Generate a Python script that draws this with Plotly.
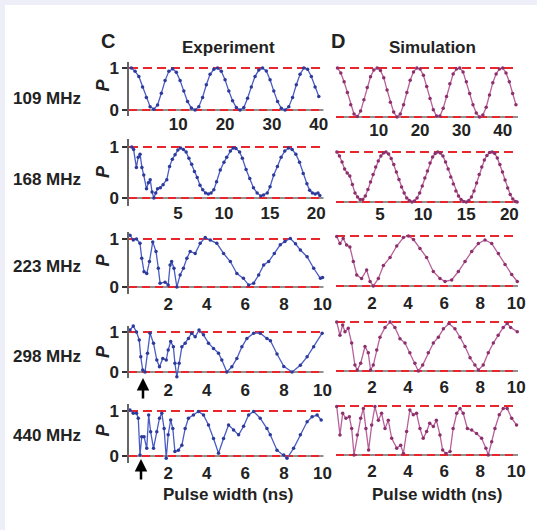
import plotly.graph_objects as go

W, H = 537, 530
FONT = "Liberation Sans, Arial, Helvetica, sans-serif"
TXT = "#222222"

# ---------------- data (P vs pulse width, ns) ----------------
# 109 MHz
exp109_y = [1.0,0.92,0.8,0.55,0.3,0.08,0.02,0.12,0.4,0.7,0.92,0.98,0.9,0.7,0.45,0.2,0.05,0.0,0.08,0.3,
            0.6,0.85,0.97,1.0,0.92,0.72,0.45,0.22,0.06,0.0,0.06,0.28,0.55,0.8,0.95,1.0,0.93,0.72,0.45,0.2,
            0.04,0.0,0.08,0.3,0.6,0.85,1.0,0.97,0.8,0.55,0.32]
exp109_x = [round(0.8 * i, 2) for i in range(len(exp109_y))]
sim109_y = [1.0,0.9,0.72,0.5,0.25,0.06,0.01,0.12,0.35,0.6,0.82,0.96,1.0,0.95,0.8,0.55,0.3,0.1,0.0,0.06,
            0.25,0.5,0.75,0.92,1.0,0.98,0.85,0.62,0.38,0.15,0.02,0.02,0.18,0.42,0.68,0.88,0.98,1.0,0.92,0.72,
            0.48,0.25,0.08,0.0,0.04,0.2,0.45,0.7,0.88,0.98,1.0,0.9,0.72,0.48,0.25]
sim109_x = [round(0.8 * i, 2) for i in range(len(sim109_y))]

# 168 MHz
exp168_x = [0,0.2,0.5,0.7,0.9,1.1,1.3,1.6,1.8,2.0,2.2,2.4,2.6,2.8,3.1,3.4,3.8,4.1,4.4,4.7,
            5.0,5.3,5.6,5.9,6.2,6.5,6.8,7.1,7.4,7.7,8.0,8.3,8.6,8.9,9.2,9.6,10.0,10.3,10.7,11.0,
            11.3,11.7,12.0,12.4,12.8,13.2,13.6,14.0,14.3,14.7,15.0,15.4,15.8,16.2,16.6,17.0,17.4,17.8,18.2,18.6,
            19.0,19.3,19.6,19.9,20.2,20.4]
exp168_y = [1.0,0.95,0.6,0.8,0.86,0.6,0.45,0.18,0.3,0.36,0.12,0.0,0.1,0.18,0.2,0.26,0.36,0.62,0.76,0.85,
            0.94,0.98,0.95,0.9,0.78,0.66,0.52,0.4,0.25,0.16,0.1,0.08,0.1,0.16,0.32,0.55,0.7,0.8,0.92,0.98,
            0.97,0.9,0.78,0.56,0.38,0.2,0.1,0.04,0.06,0.1,0.22,0.45,0.62,0.8,0.92,0.98,0.95,0.86,0.7,0.48,
            0.28,0.15,0.1,0.08,0.1,0.05]
sim168_y = [1.0,0.92,0.8,0.66,0.58,0.52,0.35,0.18,0.1,0.05,0.05,0.12,0.25,0.4,0.55,0.7,0.82,0.92,0.98,1.0,
            0.96,0.87,0.75,0.6,0.45,0.3,0.18,0.08,0.03,0.0,0.02,0.08,0.18,0.32,0.48,0.62,0.78,0.9,0.97,1.0,
            0.98,0.92,0.8,0.66,0.5,0.36,0.22,0.12,0.05,0.01,0.0,0.03,0.1,0.22,0.38,0.55,0.7,0.84,0.93,0.99,
            1.0,0.97,0.88,0.75,0.6,0.44,0.28,0.15,0.06,0.01,0.0]
sim168_x = [round(0.3 * i, 1) for i in range(70)] + [20.9]

# 223 MHz
exp223_x = [0.02,0.19,0.36,0.54,0.63,0.75,0.89,1.03,1.2,1.37,1.49,1.58,1.84,2.0,2.1,2.18,2.3,2.45,2.62,2.79,
            2.97,3.14,3.4,3.66,3.92,4.18,4.52,4.87,5.22,5.56,5.9,6.17,6.43,6.69,6.95,7.21,7.5,7.81,8.05,8.33,
            8.6,8.85,9.2,9.54,9.89,10.0]
exp223_y = [1.08,0.98,1.0,0.91,0.6,0.32,0.28,0.53,0.94,0.74,0.39,0.08,0.1,0.04,0.46,0.53,0.39,0.0,0.25,0.39,
            0.6,0.74,0.7,0.91,1.03,0.98,0.91,0.7,0.53,0.28,0.18,0.04,0.08,0.25,0.46,0.53,0.7,0.88,0.95,1.01,
            0.9,0.77,0.63,0.39,0.18,0.2]
sim223_x = [0.04,0.22,0.4,0.59,0.77,0.96,1.15,1.42,1.7,1.89,2.07,2.35,2.63,3.0,3.37,3.74,4.02,4.3,4.66,5.03,
            5.4,5.77,6.05,6.42,6.79,7.16,7.53,7.9,8.27,8.64,9.01,9.38,9.75,10.06]
sim223_y = [0.99,0.85,0.95,0.82,0.78,0.49,0.22,0.15,0.32,0.09,0.0,0.15,0.41,0.57,0.8,0.97,1.0,0.93,0.75,0.57,
            0.29,0.15,0.09,0.12,0.29,0.49,0.69,0.85,0.92,0.85,0.65,0.43,0.23,0.09]

# 298 MHz
exp298_x = [0.02,0.19,0.36,0.5,0.58,0.68,0.8,0.93,1.06,1.24,1.41,1.55,1.72,1.9,2.0,2.13,2.27,2.35,2.45,2.57,
            2.71,2.88,3.05,3.22,3.4,3.6,3.83,4.09,4.35,4.61,4.78,5.04,5.3,5.56,5.82,6.08,6.43,6.77,7.12,7.3,
            7.64,7.99,8.42,8.85,9.2,9.54,9.98]
exp298_y = [1.05,1.15,1.0,0.8,0.38,0.05,0.0,0.47,0.97,0.72,0.3,0.13,0.34,0.3,0.55,0.76,0.63,0.22,-0.12,0.22,
            0.63,0.72,0.84,0.97,0.88,1.05,0.93,0.72,0.59,0.47,0.3,0.0,0.13,0.34,0.63,0.84,0.97,0.97,0.84,0.78,
            0.45,0.14,0.0,0.17,0.38,0.63,0.97]
sim298_x = [0.04,0.22,0.37,0.5,0.68,0.87,1.05,1.18,1.37,1.61,1.79,1.92,2.07,2.26,2.44,2.72,3.0,3.27,3.55,3.83,
            4.1,4.38,4.57,4.81,5.12,5.4,5.68,5.96,6.27,6.6,6.88,7.16,7.44,7.71,7.9,8.17,8.45,8.73,9.0,9.28,
            9.5,9.69,10.06]
sim298_y = [1.0,0.73,0.94,0.8,0.87,0.57,0.12,0.02,0.16,0.5,0.37,0.02,0.12,0.43,0.69,0.89,1.0,0.89,0.66,0.57,
            0.37,0.16,0.0,0.12,0.37,0.57,0.69,0.86,0.97,0.86,0.69,0.5,0.27,0.12,0.02,0.12,0.37,0.57,0.73,0.89,
            0.97,0.89,0.8]

# 440 MHz
exp440_x = [0.02,0.19,0.36,0.45,0.54,0.63,0.75,0.89,0.99,1.09,1.24,1.41,1.55,1.67,1.79,1.9,2.0,2.13,2.24,2.35,
            2.53,2.71,2.88,3.05,3.31,3.57,3.83,4.09,4.35,4.61,4.87,5.13,5.39,5.65,5.91,6.17,6.43,6.77,7.12,7.29,
            7.64,7.99,8.16,8.5,8.85,9.2,9.46,9.72,9.93]
exp440_y = [1.02,0.95,0.95,0.84,0.02,0.43,0.43,0.17,0.91,0.54,0.17,0.54,0.84,0.95,0.61,-0.05,0.47,0.8,0.61,0.1,
            0.13,0.24,0.61,0.84,0.91,0.99,0.91,0.69,0.39,0.06,0.39,0.69,0.58,0.47,0.66,0.91,0.99,0.84,0.61,0.47,
            0.13,0.02,-0.05,0.17,0.47,0.76,0.87,0.91,0.8]
sim440_x = [0.04,0.22,0.37,0.55,0.74,0.87,1.0,1.18,1.37,1.52,1.66,1.81,1.98,2.16,2.35,2.53,2.72,2.9,3.09,3.37,
            3.59,3.74,3.92,4.1,4.29,4.47,4.66,4.84,5.03,5.2,5.4,5.57,5.77,5.92,6.1,6.33,6.5,6.7,6.88,7.06,
            7.29,7.53,7.8,8.08,8.32,8.45,8.64,8.82,9.06,9.28,9.5,9.75,10.02]
sim440_y = [0.99,0.41,0.85,0.75,0.78,0.54,0.0,0.41,0.75,0.95,0.54,0.1,0.61,0.99,0.71,0.85,0.54,0.71,0.34,0.14,
            0.2,0.03,0.48,0.92,0.82,0.85,0.54,0.34,0.48,0.65,0.58,0.71,0.41,0.1,0.03,0.07,0.54,0.85,0.95,0.85,
            0.54,0.51,0.44,0.34,0.14,0.0,0.27,0.54,0.82,0.95,0.95,0.75,0.61]

row_labels = ["109 MHz", "168 MHz", "223 MHz", "298 MHz", "440 MHz"]
ticks_109 = [10, 20, 30, 40]
ticks_168 = [5, 10, 15, 20]
ticks_ns = [2, 4, 6, 8, 10]

# ---------------- layout geometry (pixels) ----------------
EXP_X = (129, 323.5)
SIM_X = (336, 518)
# (data x, data y, x range, ticks, P=1 px, P=0 px, label offset px)
exp_panels = [
    (exp109_x, exp109_y, [-0.5, 41.0], ticks_109, 68, 110, 13.5),
    (exp168_x, exp168_y, [-0.3, 20.8], ticks_168, 147, 198, 13.5),
    (exp223_x, exp223_y, [-0.03, 10.05], ticks_ns, 239, 287, 16.5),
    (exp298_x, exp298_y, [-0.03, 10.05], ticks_ns, 332, 372, 16.5),
    (exp440_x, exp440_y, [-0.03, 10.05], ticks_ns, 411, 456, 16.0),
]
sim_panels = [
    (sim109_x, sim109_y, [-0.36, 43.7], ticks_109, 68, 117, 12.5),
    (sim168_x, sim168_y, [-0.1, 21.0], ticks_168, 152, 202, 10.5),
    (sim223_x, sim223_y, [0, 10.1], ticks_ns, 236, 286, 15.5),
    (sim298_x, sim298_y, [0, 10.1], ticks_ns, 322, 371, 15.5),
    (sim440_x, sim440_y, [0, 10.1], ticks_ns, 406, 455, 15.0),
]
row_label_y = [99, 180, 266.5, 356.5, 435]
p_label_y = [85, 171.5, 260, 351.5, 430]

EXP_LINE, EXP_MARK = "#4a5cc4", "#2c3a9c"
SIM_LINE, SIM_MARK = "#b7619a", "#8c2f6c"
RED = "#e8262c"
LAVENDER = "#edeef8"
PAD = 0.15
BASE = 11

fig = go.Figure()
layout = dict(width=W, height=H, autosize=False,
              margin=dict(l=0, r=0, t=0, b=0, pad=0, autoexpand=False),
              paper_bgcolor="white", plot_bgcolor="rgba(0,0,0,0)", showlegend=False)
shapes = [
    dict(type="rect", xref="paper", yref="paper", x0=0, x1=5 / W, y0=0, y1=1,
         fillcolor=LAVENDER, line_width=0, layer="below"),
    dict(type="rect", xref="paper", yref="paper", x0=0, x1=1, y0=1 - 5 / H, y1=1,
         fillcolor=LAVENDER, line_width=0, layer="below"),
]
annotations = []
tickfont = dict(family=FONT, size=17, color=TXT, weight="bold")


def add_panel(i, panel, xpx, is_exp):
    x, y, rng, ticks, p1, p0, lab = panel
    u = p0 - p1
    top = p1 - PAD * u
    bot = p0 + PAD * u
    sfx = "" if i == 1 else str(i)
    xn, yn = "x" + sfx, "y" + sfx
    layout["xaxis" + sfx] = dict(domain=[xpx[0] / W, xpx[1] / W], range=rng, anchor=yn,
                                 tickvals=ticks, ticks="", showline=False, showgrid=False,
                                 zeroline=False, tickfont=tickfont, automargin=False,
                                 ticklabelstandoff=int(round(lab - PAD * u - BASE)))
    ya = dict(domain=[1 - bot / H, 1 - top / H], range=[-PAD, 1 + PAD], anchor=xn,
              showgrid=False, zeroline=False, automargin=False)
    if is_exp:
        ya.update(tickvals=[0, 1], ticks="outside", ticklen=5, tickwidth=1.5, tickcolor="#333",
                  showline=True, linecolor="#666", linewidth=1.5, tickfont=tickfont)
    else:
        ya.update(showticklabels=False, showline=False, ticks="")
    layout["yaxis" + sfx] = ya
    shapes.append(dict(type="line", xref=xn + " domain", yref=yn, x0=0, x1=1, y0=0, y1=0,
                       line=dict(color="#222", width=1), layer="below"))
    shapes.append(dict(type="line", xref=xn + " domain", yref=yn, x0=0, x1=1, y0=0, y1=0,
                       line=dict(color=RED, width=1.8, dash="8px,5px"), layer="below"))
    shapes.append(dict(type="line", xref=xn + " domain", yref=yn, x0=0, x1=1, y0=1, y1=1,
                       line=dict(color=RED, width=2.2, dash="9px,5px"), layer="below"))
    lc, mc = (EXP_LINE, EXP_MARK) if is_exp else (SIM_LINE, SIM_MARK)
    fig.add_trace(go.Scatter(x=x, y=y, xaxis=xn, yaxis=yn, mode="lines+markers",
                             line=dict(color=lc, width=1.3), marker=dict(size=3.5, color=mc),
                             cliponaxis=False, hoverinfo="skip"))


for r in range(5):
    add_panel(2 * r + 1, exp_panels[r], EXP_X, True)
    add_panel(2 * r + 2, sim_panels[r], SIM_X, False)


def txt(s, xp, yp, size=17, angle=0):
    annotations.append(dict(text=s, x=xp / W, y=1 - yp / H, xref="paper", yref="paper",
                            showarrow=False, xanchor="center", yanchor="middle", textangle=angle,
                            font=dict(family=FONT, size=size, color=TXT)))


for r in range(5):
    txt("<b>" + row_labels[r] + "</b>", 47, row_label_y[r])
    txt("<b><i>P</i></b>", 102.5, p_label_y[r], size=18, angle=-90)

txt("<b>C</b>", 108, 41, size=20)
txt("<b>D</b>", 338, 41, size=20)
txt("<b>Experiment</b>", 228.5, 48)
txt("<b>Simulation</b>", 432.5, 48)
txt("<b>Pulse width (ns)</b>", 227.5, 494)
txt("<b>Pulse width (ns)</b>", 437.5, 494)

for ax_px, tip in [(143, 378), (141, 459)]:
    annotations.append(dict(text="", x=ax_px / W, y=1 - tip / H, xref="paper", yref="paper",
                            showarrow=True, arrowhead=2, arrowsize=1, arrowwidth=2.5,
                            arrowcolor="black", ax=0, ay=22, standoff=0))

layout["shapes"] = shapes
layout["annotations"] = annotations
fig.update_layout(**layout)
fig.write_html("out.html", config={"displayModeBar": False, "responsive": False},
               post_script="document.body.style.margin='0';document.body.style.padding='0';"
                           "document.body.style.overflow='hidden';"
                           "document.body.style.background='white';"
                           "document.documentElement.style.background='white';")
